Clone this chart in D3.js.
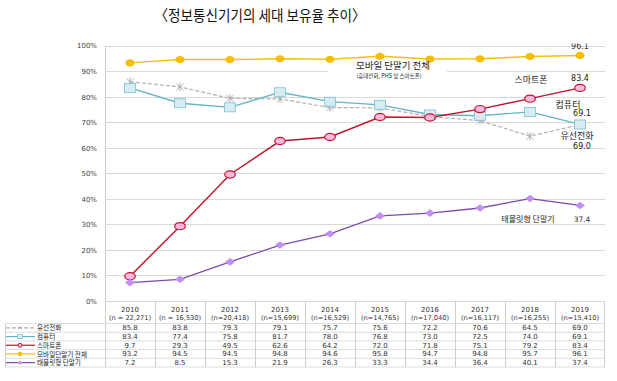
<!DOCTYPE html>
<html><head><meta charset="utf-8">
<script src="https://cdn.jsdelivr.net/npm/d3@7"></script>
<style>html,body{margin:0;padding:0;background:#fff;}</style>
</head><body><svg id="c" width="617" height="381"></svg>
<script>
const years = ["2010","2011","2012","2013","2014","2015","2016","2017","2018","2019"];
const samples = ["(n = 22,271)","(n = 16,530)","(n=20,418)","(n=15,699)","(n=16,529)","(n=14,765)","(n=17,040)","(n=16,117)","(n=16,255)","(n=15,410)"];
const wired = [85.8,83.8,79.3,79.1,75.7,75.6,72.2,70.6,64.5,69.0];
const computer = [83.4,77.4,75.8,81.7,78.0,76.8,73.0,72.5,74.0,69.1];
const smartphone = [9.7,29.3,49.5,62.6,64.2,72.0,71.8,75.1,79.2,83.4];
const mobileAll = [93.2,94.5,94.5,94.8,94.6,95.8,94.7,94.8,95.7,96.1];
const tablet = [7.2,8.5,15.3,21.9,26.3,33.3,34.4,36.4,40.1,37.4];
const seriesNames = ["유선전화","컴퓨터","스마트폰","모바일단말기 전체","태블릿형 단말기"];
const yTicks = [0,10,20,30,40,50,60,70,80,90,100];

const series = [
  {name:seriesNames[0], vals:wired, color:"#b0b0b0", dash:"4,2", marker:"star", fill:"none", stroke:"#a8a8a8", w:1.2},
  {name:seriesNames[1], vals:computer, color:"#62b5c6", dash:null, marker:"square", fill:"#d6ebf2", stroke:"#7cc0d0", w:1.3},
  {name:seriesNames[2], vals:smartphone, color:"#c0142c", dash:null, marker:"circle", fill:"#f6b8dc", stroke:"#c0142c", w:1.4},
  {name:seriesNames[3], vals:mobileAll, color:"#f4c20d", dash:null, marker:"dot", fill:"#f7bd00", stroke:"#f7bd00", w:1.5},
  {name:seriesNames[4], vals:tablet, color:"#7e4aa8", dash:null, marker:"diamond", fill:"#c28ef2", stroke:"#c28ef2", w:1.3}
];

const svg = d3.select("#c");
const numFont = "DejaVu Sans, sans-serif";
const krFont = "'Noto Sans CJK KR', sans-serif";

const x = d3.scaleBand().domain(years).range([105,605]);
const cx = d => x(d) + x.bandwidth()/2;
const y = d3.scaleLinear().domain([0,100]).range([301,45.5]);

// title
svg.append("text").attr("x",260).attr("y",21).attr("text-anchor","middle")
  .attr("font-family",krFont).attr("font-size",15).attr("fill","#111")
  .attr("textLength",211).attr("lengthAdjust","spacingAndGlyphs")
  .text("〈정보통신기기의 세대 보유율 추이〉");

// grid
svg.append("g").selectAll("line").data(yTicks).join("line")
  .attr("x1",105).attr("x2",605).attr("y1",d=>Math.round(y(d))+0.5).attr("y2",d=>Math.round(y(d))+0.5)
  .attr("stroke","#d9d9d9").attr("stroke-width",1);
svg.append("line").attr("x1",105.5).attr("x2",105.5).attr("y1",y(100)).attr("y2",y(0)).attr("stroke","#d0d0d0");

// y axis labels
const yAxis = d3.axisLeft(y).tickValues(yTicks).tickFormat(d=>d+"%").tickSize(0).tickPadding(8);
const ya = svg.append("g").attr("transform","translate(105,0)").call(yAxis);
ya.select(".domain").remove();
ya.selectAll("text").attr("font-family",numFont).attr("font-size",7).attr("fill","#444").attr("dy","0.35em");

// white box behind annotation
svg.append("rect").attr("x",328).attr("y",61).attr("width",119).attr("height",20).attr("fill","#fff");

// lines
const line = d3.line().x((d,i)=>cx(years[i])).y(d=>y(d));
series.forEach(s=>{
  svg.append("path").datum(s.vals).attr("d",line).attr("fill","none")
    .attr("stroke",s.color).attr("stroke-width",s.w).attr("stroke-dasharray",s.dash);
});

function drawMarker(g, s, px, py){
  if(s.marker==="star"){
    const r=3.5;
    g.append("path").attr("d",`M${px-r},${py-r}L${px+r},${py+r}M${px-r},${py+r}L${px+r},${py-r}M${px},${py-r-0.5}L${px},${py+r+0.5}`)
      .attr("stroke",s.stroke).attr("stroke-width",0.9).attr("fill","none");
  } else if(s.marker==="square"){
    g.append("rect").attr("x",px-5.5).attr("y",py-4.5).attr("width",11).attr("height",9)
      .attr("fill",s.fill).attr("stroke",s.stroke).attr("stroke-width",0.8);
  } else if(s.marker==="circle"){
    g.append("ellipse").attr("cx",px).attr("cy",py).attr("rx",5.3).attr("ry",3.6)
      .attr("fill",s.fill).attr("stroke",s.stroke).attr("stroke-width",1.2);
  } else if(s.marker==="dot"){
    g.append("ellipse").attr("cx",px).attr("cy",py).attr("rx",4.6).attr("ry",3.6).attr("fill",s.fill);
  } else if(s.marker==="diamond"){
    g.append("path").attr("d",`M${px},${py-3.8}L${px+5},${py}L${px},${py+3.8}L${px-5},${py}Z`).attr("fill",s.fill);
  }
}
series.forEach(s=>{
  const g = svg.append("g");
  s.vals.forEach((v,i)=>drawMarker(g,s,cx(years[i]),y(v)));
});

// annotations
function txt(t,xx,yy,size,font,anchor,fill,weight){
  return svg.append("text").attr("x",xx).attr("y",yy).attr("font-size",size).attr("font-family",font)
    .attr("text-anchor",anchor||"middle").attr("fill",fill||"#222").attr("font-weight",weight||"normal").text(t);
}
txt("모바일 단말기 전체",393,69,9.5,krFont);
txt("(휴대전화, PHS 및 스마트폰)",389,77.5,5.5,krFont);
svg.append("defs").append("clipPath").attr("id","topclip").append("rect").attr("x",0).attr("y",43.5).attr("width",617).attr("height",20);
txt(mobileAll[9].toFixed(1),cx("2019"),48.5,8,numFont,"middle","#333").attr("clip-path","url(#topclip)");
txt("스마트폰",531,83,9,krFont);
txt(smartphone[9].toFixed(1),cx("2019"),80.5,8,numFont,"middle","#222");
txt("컴퓨터",568,107.5,9,krFont);
txt(computer[9].toFixed(1),cx("2019")+2,116,8,numFont,"middle","#222");
txt("유선전화",577,138.5,9,krFont);
txt(wired[9].toFixed(1),cx("2019")+2,148.5,8,numFont,"middle","#222");
txt("태블릿형 단말기",528,221.5,8,krFont);
txt(tablet[9].toFixed(1),cx("2019")+2,221.5,7.5,numFont,"middle","#333");

// table
const rowTop = 323.5, rowH = 8.7;
const tg = svg.append("g");
years.forEach(yr=>{
  tg.append("line").attr("x1",Math.round(x(yr))+0.5).attr("x2",Math.round(x(yr))+0.5).attr("y1",301).attr("y2",rowTop+rowH*5)
    .attr("stroke","#cfcfcf");
});
tg.append("line").attr("x1",604.5).attr("x2",604.5).attr("y1",301).attr("y2",rowTop+rowH*5).attr("stroke","#cfcfcf");
tg.append("line").attr("x1",5.5).attr("x2",5.5).attr("y1",rowTop).attr("y2",rowTop+rowH*5).attr("stroke","#cfcfcf");
for(let i=0;i<=5;i++){
  tg.append("line").attr("x1",5).attr("x2",605).attr("y1",rowTop+rowH*i).attr("y2",rowTop+rowH*i).attr("stroke","#d4d4d4").attr("stroke-width",0.8);
}
years.forEach((yr,i)=>{
  txt(yr,cx(yr),312,7,numFont,"middle","#333");
  txt(samples[i],cx(yr),319.5,6.6,numFont,"middle","#333");
});
series.forEach((s,r)=>{
  const yy = rowTop + rowH*r + rowH/2;
  s.vals.forEach((v,i)=>{
    txt(v.toFixed(1),cx(years[i]),yy+2.5,7,numFont,"middle","#333");
  });
  const lg = svg.append("g");
  lg.append("line").attr("x1",6).attr("x2",35).attr("y1",yy).attr("y2",yy)
    .attr("stroke",s.color).attr("stroke-width",1.2).attr("stroke-dasharray",s.dash);
  if(s.marker==="star"){
    lg.append("path").attr("d",`M${18},${yy-2}L${22},${yy+2}M${18},${yy+2}L${22},${yy-2}`).attr("stroke",s.stroke).attr("stroke-width",0.8);
  } else if(s.marker==="square"){
    lg.append("rect").attr("x",17.5).attr("y",yy-2).attr("width",5).attr("height",4).attr("fill",s.fill).attr("stroke",s.stroke).attr("stroke-width",0.7);
  } else if(s.marker==="circle"){
    lg.append("circle").attr("cx",20).attr("cy",yy).attr("r",2).attr("fill",s.fill).attr("stroke",s.stroke).attr("stroke-width",0.9);
  } else if(s.marker==="dot"){
    lg.append("circle").attr("cx",20).attr("cy",yy).attr("r",2.2).attr("fill",s.fill);
  } else {
    lg.append("path").attr("d",`M20,${yy-2.2}L22.6,${yy}L20,${yy+2.2}L17.4,${yy}Z`).attr("fill",s.fill);
  }
  txt(s.name,37,yy+2.6,6.6,krFont,"start","#222");
});
</script>
</body></html>
